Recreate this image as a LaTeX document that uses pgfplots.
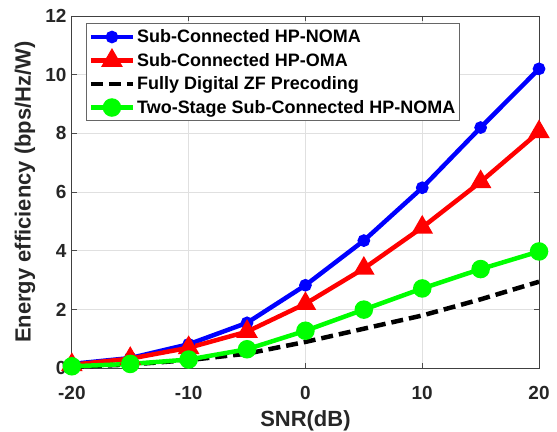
\documentclass[border=0pt]{standalone}
\usepackage{pgfplots}
\pgfplotsset{compat=1.18}
\usepackage{fontspec}
\setmainfont{Liberation Sans}
\begin{document}
\begin{tikzpicture}
\begin{axis}[
  at={(0pt,0pt)}, anchor=south west,
  scale only axis, width=468pt, height=353pt,
  xmin=-20, xmax=20, ymin=0, ymax=12,
  xtick={-20,-10,...,20}, ytick={0,2,...,12},
  grid=major, grid style={black!12, line width=0.8pt},
  axis line style={black!75, line width=0.9pt},
  tick align=inside, tick style={black!70, line width=0.9pt},
  major tick length=5pt,
  ticklabel style={font=\fontsize{19}{19}\selectfont\bfseries, text=black!85},
  xticklabel style={yshift=-14pt},
  yticklabel style={xshift=-2pt},
  /pgf/number format/assume math mode=true,
  xlabel={SNR(dB)}, ylabel={Energy efficiency (bps/Hz/W)},
  label style={font=\fontsize{22}{22}\selectfont\bfseries, text=black!85},
  xlabel style={yshift=-4pt},
  ylabel style={yshift=3pt},
  legend cell align=left,
  legend style={at={(axis description cs:0.031,0.979)}, anchor=north west,
    font=\fontsize{18}{22}\selectfont\bfseries, draw=black!60, line width=0.8pt,
    row sep=5pt, inner xsep=2pt, inner ysep=4pt},
  legend image code/.code={\draw[mark repeat=2,mark phase=2] plot coordinates {(0pt,0pt) (21pt,0pt) (42pt,0pt)};},
]
\addplot[blue, line width=4.5pt, mark=*, mark size=4pt, mark options={solid}] coordinates {
(-20,0.15) (-15,0.35) (-10,0.82) (-5,1.55) (0,2.83) (5,4.35) (10,6.15) (15,8.2) (20,10.2)};
\addlegendentry{Sub-Connected HP-NOMA}
\addplot[red, line width=4.5pt, mark=triangle*, mark size=8pt, mark options={solid}] coordinates {
(-20,0.12) (-15,0.33) (-10,0.7) (-5,1.25) (0,2.2) (5,3.4) (10,4.8) (15,6.35) (20,8.05)};
\addlegendentry{Sub-Connected HP-OMA}
\addplot[black, line width=4.5pt, dash pattern=on 12pt off 6pt] coordinates {
(-20,0.05) (-15,0.13) (-10,0.28) (-5,0.5) (0,0.9) (5,1.35) (10,1.8) (15,2.35) (20,2.95)};
\addlegendentry{Fully Digital ZF Precoding}
\addplot[green, line width=4.5pt, mark=*, mark size=7pt, mark options={solid}] coordinates {
(-20,0.07) (-15,0.15) (-10,0.3) (-5,0.65) (0,1.28) (5,2.0) (10,2.72) (15,3.38) (20,3.98)};
\addlegendentry{Two-Stage Sub-Connected HP-NOMA}
\end{axis}
\pgfresetboundingbox
\path (-72pt,-63pt) rectangle (486pt,369pt);
\end{tikzpicture}
\end{document}
